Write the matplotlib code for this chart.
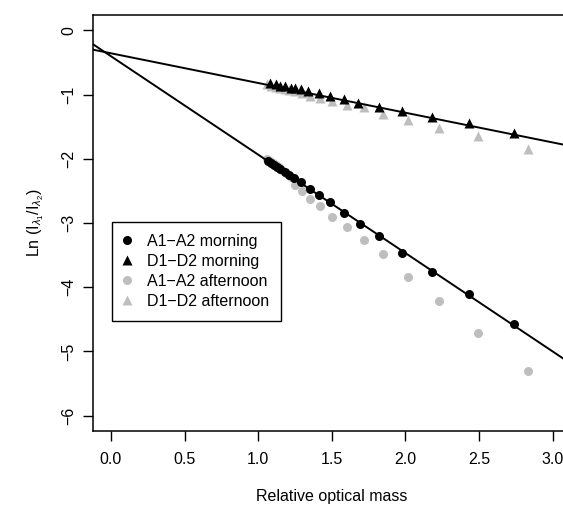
import matplotlib
matplotlib.use("Agg")
import matplotlib.pyplot as plt

plt.rcParams['font.family'] = ['Liberation Sans', 'DejaVu Sans']
plt.rcParams['mathtext.fontset'] = 'custom'
plt.rcParams['mathtext.rm'] = 'Liberation Sans'
plt.rcParams['mathtext.it'] = 'Liberation Sans:italic'

# A1-A2 (circles), morning and afternoon
a_morning_x = [1.07, 1.09, 1.11, 1.13, 1.15, 1.18, 1.21, 1.24, 1.29, 1.35, 1.41,
               1.49, 1.58, 1.69, 1.82, 1.98, 2.18, 2.43, 2.74]
a_morning_y = [-2.04, -2.07, -2.10, -2.13, -2.16, -2.21, -2.26, -2.30, -2.36, -2.47,
               -2.56, -2.68, -2.84, -3.01, -3.20, -3.46, -3.76, -4.11, -4.58]
a_afternoon_x = [1.06, 1.08, 1.10, 1.12, 1.14, 1.16, 1.19, 1.22, 1.25, 1.30, 1.35,
                 1.42, 1.50, 1.60, 1.72, 1.85, 2.02, 2.23, 2.49, 2.83]
a_afternoon_y = [-2.00, -2.03, -2.06, -2.10, -2.13, -2.17, -2.22, -2.28, -2.41, -2.50,
                 -2.62, -2.74, -2.90, -3.07, -3.26, -3.49, -3.84, -4.22, -4.71, -5.31]

# D1-D2 (triangles), morning and afternoon
d_morning_x = [1.08, 1.12, 1.15, 1.18, 1.22, 1.25, 1.29, 1.34, 1.41, 1.49, 1.58,
               1.68, 1.82, 1.98, 2.18, 2.43, 2.74]
d_morning_y = [-0.82, -0.84, -0.86, -0.87, -0.89, -0.90, -0.92, -0.95, -0.98, -1.02,
               -1.07, -1.13, -1.19, -1.25, -1.35, -1.44, -1.60]
d_afternoon_x = [1.06, 1.09, 1.12, 1.15, 1.18, 1.21, 1.25, 1.30, 1.35, 1.42, 1.50,
                 1.60, 1.72, 1.85, 2.02, 2.23, 2.49, 2.83]
d_afternoon_y = [-0.84, -0.86, -0.88, -0.89, -0.91, -0.93, -0.95, -0.98, -1.02, -1.06,
                 -1.10, -1.16, -1.19, -1.30, -1.39, -1.52, -1.65, -1.84]

# fitted lines (intercept, slope)
a_fit = (-0.402, -1.533)
d_fit = (-0.356, -0.463)

grey = '#BEBEBE'
fs = 11.5

fig = plt.figure(figsize=(5.63, 5.11), dpi=100)
ax = fig.add_axes([0.1657, 0.1566, 0.8473, 0.8140])

ax.plot(a_afternoon_x, a_afternoon_y, 'o', color=grey, ms=6.5, mec='none',
        label='A1\u2212A2 afternoon')
ax.plot(d_afternoon_x, d_afternoon_y, '^', color=grey, ms=7, mec='none',
        label='D1\u2212D2 afternoon')
ax.plot(a_morning_x, a_morning_y, 'o', color='black', ms=6.5, mec='none',
        label='A1\u2212A2 morning')
ax.plot(d_morning_x, d_morning_y, '^', color='black', ms=7, mec='none',
        label='D1\u2212D2 morning')

for b0, b1 in (a_fit, d_fit):
    ax.axline((0, b0), slope=b1, color='black', lw=1.4)

ax.set_xlim(-0.12, 3.12)
ax.set_ylim(-6.24, 0.24)
ax.set_xticks([0, 0.5, 1.0, 1.5, 2.0, 2.5, 3.0])
ax.set_xticklabels(['0.0', '0.5', '1.0', '1.5', '2.0', '2.5', '3.0'])
ax.set_yticks([0, -1, -2, -3, -4, -5, -6])
ax.set_yticklabels(['0', '\u22121', '\u22122', '\u22123', '\u22124', '\u22125', '\u22126'],
                   rotation=90, va='center')
ax.tick_params(direction='out', length=7, width=1, labelsize=fs, pad=8)
ax.tick_params(axis='y', pad=5)
for s in ax.spines.values():
    s.set_linewidth(1.1)

ax.set_xlabel('Relative optical mass', fontsize=fs, labelpad=16)
ax.set_ylabel(r'Ln (I$_{\lambda_1}$/I$_{\lambda_2}$)', fontsize=fs, labelpad=11)

h, l = ax.get_legend_handles_labels()
order = [2, 3, 0, 1]
leg = ax.legend([h[i] for i in order], [l[i] for i in order],
                loc='upper left', bbox_to_anchor=(0.0386, 0.502), fontsize=fs,
                frameon=True, fancybox=False, edgecolor='black', framealpha=1,
                labelspacing=0.32, handletextpad=1.0, borderpad=0.72,
                handlelength=0.5, borderaxespad=0)
leg.get_frame().set_linewidth(1.0)

fig.savefig('out.png', dpi=100)
